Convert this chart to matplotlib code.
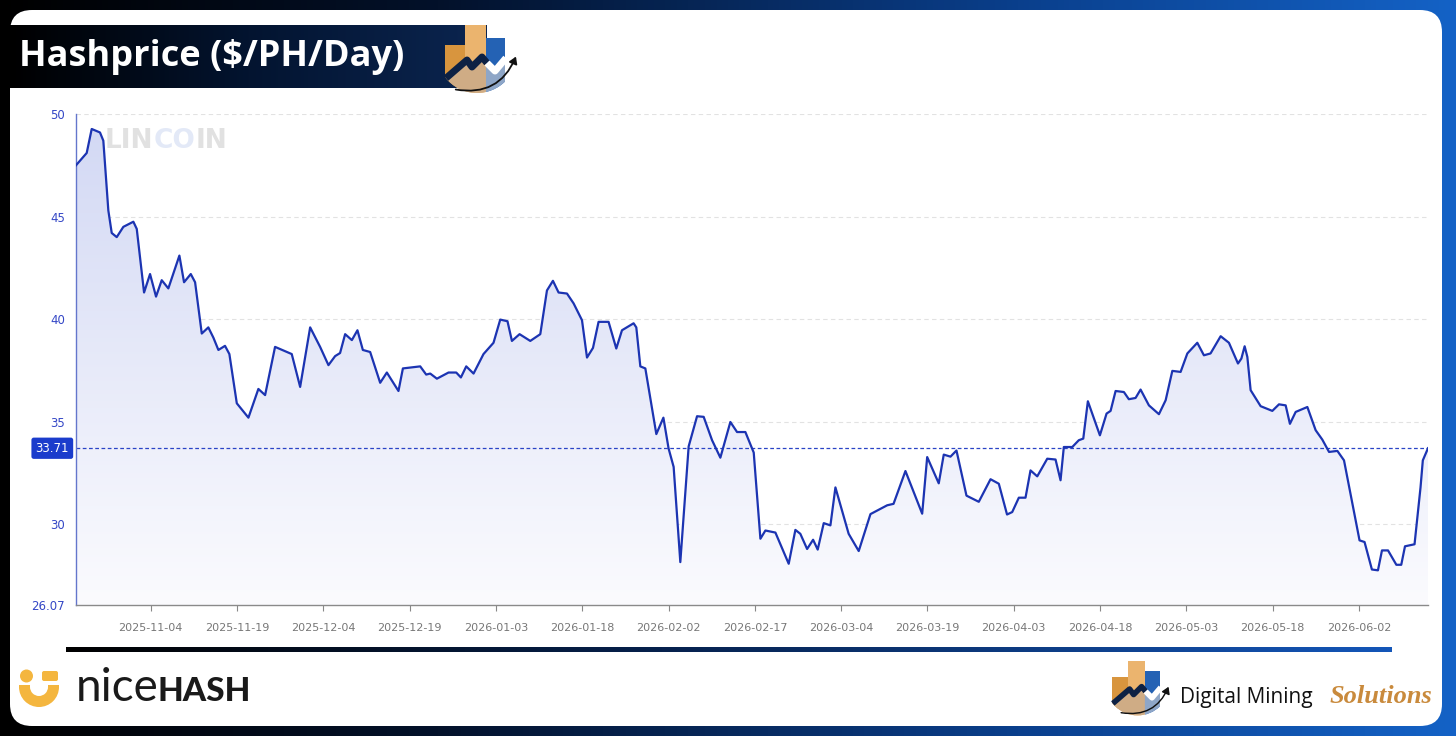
import numpy as np
import pandas as pd
import matplotlib
matplotlib.use("Agg")
import matplotlib.pyplot as plt
import matplotlib.dates as mdates
from matplotlib.patches import FancyBboxPatch, Rectangle, Circle, Wedge, Polygon, FancyArrowPatch
from matplotlib.colors import to_rgb
from matplotlib.transforms import offset_copy

# ---------------- data ----------------
START_DATE = "2025-10-22"
# days since START_DATE
DAYS = [0.0, 1.86, 2.73, 4.17, 4.75, 5.62, 6.21, 7.08, 8.23, 9.97, 10.56, 11.83, 12.87, 13.91,
        14.9, 16.05, 17.97, 18.78, 19.95, 20.7, 21.86, 23.0, 23.88, 24.75, 25.9, 26.66, 27.95,
        29.97, 31.7, 32.87, 34.6, 37.5, 38.96, 40.7, 42.43, 43.88, 45.04, 45.9, 46.78, 47.95,
        48.92, 49.86, 51.13, 52.87, 54.03, 56.05, 56.82, 59.83, 60.87, 61.57, 62.73, 64.75,
        66.09, 66.9, 67.83, 69.1, 70.83, 72.57, 73.74, 75.0, 75.77, 77.1, 78.96, 80.7, 81.86,
        82.9, 83.88, 85.34, 86.49, 87.95, 88.82, 89.86, 90.83, 92.57, 93.91, 94.9, 96.92,
        97.39, 98.09, 98.96, 100.87, 102.1, 103.0, 103.88, 105.04, 106.49, 107.95, 109.1,
        110.56, 112.0, 113.74, 114.9, 116.35, 117.8, 118.96, 119.83, 121.57, 123.88, 125.04,
        125.9, 127.08, 128.12, 128.92, 129.97, 131.13, 132.0, 134.3, 136.05, 138.09, 141.0,
        142.1, 144.17, 147.08, 147.95, 149.96, 150.83, 152.0, 153.04, 154.78, 156.92, 158.96,
        160.4, 161.83, 162.73, 163.88, 165.04, 165.91, 167.08, 168.82, 170.26, 171.13, 171.7,
        173.17, 174.3, 175.08, 175.88, 177.97, 179.13, 179.83, 180.7, 182.14, 183.0, 184.17,
        185.04, 186.49, 188.23, 189.4, 190.56, 192.0, 193.17, 194.9, 196.05, 197.2, 198.96,
        200.4, 201.97, 202.56, 203.13, 203.6, 204.17, 205.91, 207.94, 209.1, 210.26, 211.0,
        212.0, 214.03, 215.47, 216.63, 217.8, 219.25, 220.4, 223.1, 223.97, 225.25, 226.3,
        227.0, 228.05, 229.5, 230.35, 231.0, 232.66, 233.7, 234.1, 235.0]
HASHPRICE = [47.5, 48.1, 49.27, 49.1, 48.7, 45.3, 44.2, 44.0, 44.5, 44.75, 44.4, 41.3, 42.2, 41.1,
             41.9, 41.5, 43.1, 41.8, 42.2, 41.8, 39.3, 39.6, 39.1, 38.5, 38.7, 38.3, 35.9,
             35.2, 36.6, 36.3, 38.65, 38.3, 36.7, 39.6, 38.65, 37.76, 38.2, 38.35, 39.27, 38.98,
             39.46, 38.5, 38.4, 36.9, 37.4, 36.5, 37.6, 37.7, 37.3, 37.35, 37.1, 37.4,
             37.4, 37.16, 37.7, 37.35, 38.3, 38.85, 39.98, 39.9, 38.94, 39.27, 38.94, 39.27, 41.4,
             41.87, 41.3, 41.25, 40.77, 39.95, 38.13, 38.6, 39.87, 39.87, 38.57, 39.46, 39.8,
             39.6, 37.7, 37.6, 34.4, 35.2, 33.7, 32.8, 28.16, 33.8, 35.27, 35.24,
             34.1, 33.25, 34.99, 34.5, 34.5, 33.5, 29.3, 29.7, 29.6, 28.08, 29.73,
             29.54, 28.8, 29.25, 28.77, 30.06, 29.95, 31.8, 29.54, 28.7, 30.5, 30.93,
             31.0, 32.6, 30.52, 33.28, 32.0, 33.4, 33.3, 33.6, 31.4, 31.1, 32.2,
             31.98, 30.48, 30.6, 31.3, 31.3, 32.63, 32.34, 33.2, 33.16, 32.15, 33.77,
             33.77, 34.1, 34.18, 36.0, 34.34, 35.4, 35.53, 36.5, 36.45, 36.1, 36.16,
             36.57, 35.8, 35.37, 36.05, 37.48, 37.43, 38.33, 38.85, 38.24, 38.33, 39.17,
             38.85, 37.84, 38.08, 38.68, 38.16, 36.54, 35.76, 35.53, 35.85, 35.8, 34.9,
             35.48, 35.72, 34.59, 34.13, 33.53, 33.58, 33.12, 29.22, 29.14, 27.8, 27.76,
             28.73, 28.73, 28.03, 28.03, 28.93, 29.03, 31.8, 33.12, 33.71]
Y_MIN, Y_MAX = 26.07, 50
Y_TICKS = [26.07, 30, 35, 40, 45, 50]
Y_TICK_LABELS = ["26.07", "30", "35", "40", "45", "50"]
X_TICKS = ["2025-11-04", "2025-11-19", "2025-12-04", "2025-12-19", "2026-01-03", "2026-01-18",
           "2026-02-02", "2026-02-17", "2026-03-04", "2026-03-19", "2026-04-03", "2026-04-18",
           "2026-05-03", "2026-05-18", "2026-06-02"]
LAST_VALUE = 33.71
TITLE = "Hashprice ($/PH/Day)"

dates = pd.Timestamp(START_DATE) + pd.to_timedelta(DAYS, unit="D")
xnum = mdates.date2num(dates.to_pydatetime())

W, H = 1456, 736
fig = plt.figure(figsize=(W / 100, H / 100), dpi=100)

# ---------------- background / frame ----------------
bg = fig.add_axes([0, 0, 1, 1])
bg.set_axis_off()

def hgrad(c_stops, n=256):
    pos = [p for p, _ in c_stops]
    cols = np.array([to_rgb(c) for _, c in c_stops])
    t = np.linspace(0, 1, n)
    arr = np.stack([np.interp(t, pos, cols[:, k]) for k in range(3)], axis=-1)
    return arr[np.newaxis, :, :]

bg.imshow(hgrad([(0, "#000000"), (0.3, "#03112a"), (0.7, "#0a3f8c"), (1, "#1462c6")]),
          extent=(0, W, H, 0), aspect="auto", zorder=0)
panel = FancyBboxPatch((10, 10), 1432, 716, boxstyle="round,pad=0,rounding_size=22",
                       facecolor="white", edgecolor="none", zorder=1)
bg.add_patch(panel)
# title banner
bg.imshow(hgrad([(0, "#000000"), (0.5, "#031430"), (1, "#0b2550")]),
          extent=(10, 487, 88, 25), aspect="auto", zorder=2)
bg.text(19, 57, TITLE, color="white", fontsize=26, fontweight="bold",
        family=["Open Sans", "DejaVu Sans"], va="center", ha="left", zorder=3)

def draw_logo(ax, x0, y0, s, z=4):
    def P(x, y):
        return (x0 + x * s, y0 + y * s)
    clip = Circle(P(32, 28), 40 * s, transform=ax.transData)
    parts = [
        Rectangle(P(0, 20), 20 * s, 55 * s, facecolor="#d8953e", edgecolor="none"),
        Rectangle(P(20, 0), 21 * s, 75 * s, facecolor="#ebb46e", edgecolor="none"),
        Rectangle(P(41, 13), 19 * s, 62 * s, facecolor="#2462b4", edgecolor="none"),
        Polygon([P(0, 54), P(22, 35), P(27, 42), P(37, 34), P(41, 38), P(41, 75), P(0, 75)],
                facecolor="#cfac85", edgecolor="none"),
        Polygon([P(41, 38), P(50, 47), P(60, 35), P(60, 75), P(41, 75)],
                facecolor="#8ea6c7", edgecolor="none"),
    ]
    for p in parts:
        p.set_zorder(z)
        ax.add_patch(p)
        p.set_clip_path(clip)
    zz = np.array([P(0, 54), P(22, 35), P(27, 42), P(37, 32), P(42, 38)])
    l1, = ax.plot(zz[:, 0], zz[:, 1], color="#0d2144", lw=5 * s, solid_capstyle="butt", zorder=z + 1)
    l1.set_clip_path(clip)
    ww = np.array([P(42, 38), P(50, 46), P(61, 33)])
    l2, = ax.plot(ww[:, 0], ww[:, 1], color="white", lw=5 * s, solid_capstyle="butt", zorder=z + 1)
    l2.set_clip_path(clip)
    arr = FancyArrowPatch(P(8, 64), P(72, 29), connectionstyle="arc3,rad=0.42",
                          arrowstyle="-|>,head_length=4,head_width=2.5", color="#111111",
                          lw=1.3 * s, zorder=z + 2, mutation_scale=1)
    ax.add_patch(arr)

draw_logo(bg, 445, 25, 1.0)
draw_logo(bg, 1112, 661, 0.8)

# bottom separator line
bg.imshow(hgrad([(0, "#000000"), (0.45, "#06214d"), (1, "#1456b8")]),
          extent=(66, 1392, 652, 647), aspect="auto", zorder=2)

# nicehash logo
Y = "#f4b63f"
bg.add_patch(Circle((26.5, 676), 6.5, facecolor=Y, edgecolor="none", zorder=3))
bg.add_patch(FancyBboxPatch((42, 671), 16, 10, boxstyle="round,pad=0,rounding_size=2",
                            facecolor=Y, edgecolor="none", zorder=3))
bg.add_patch(Wedge((39, 687), 20, 0, 180, width=11, facecolor=Y, edgecolor="none", zorder=3))
bg.add_patch(Rectangle((19, 685), 11, 2.5, facecolor=Y, edgecolor="none", zorder=3))
bg.add_patch(Rectangle((48, 685), 11, 2.5, facecolor=Y, edgecolor="none", zorder=3))
bg.text(76, 701, "nice", color="#1a1a1a", fontsize=33, fontweight="normal",
        family=["Lato", "DejaVu Sans"], va="baseline", ha="left", zorder=3)
bg.text(157, 701, "HASH", color="#1a1a1a", fontsize=24, fontweight="black",
        family=["Lato", "DejaVu Sans"], va="baseline", ha="left", zorder=3)

# Digital Mining Solutions
bg.text(1180, 703, "Digital Mining", color="#111111", fontsize=15,
        family=["Open Sans", "DejaVu Sans"], va="baseline", ha="left", zorder=3)
bg.text(1330, 703, "Solutions", color="#c98a3c", fontsize=19, fontweight="bold", style="italic",
        family=["Liberation Serif", "DejaVu Serif"], va="baseline", ha="left", zorder=3)

bg.set_xlim(0, W)
bg.set_ylim(H, 0)

# ---------------- chart ----------------
L, R, T, B = 76, 1428, 114, 605
ax = fig.add_axes([L / W, 1 - B / H, (R - L) / W, (B - T) / H])
ax.set_facecolor("none")
ax.set_zorder(5)

x0n, x1n = xnum[0], xnum[-1]
ax.set_xlim(x0n, x1n)
ax.set_ylim(Y_MIN, Y_MAX)

# gradient fill under the curve
poly = ax.fill_between(xnum, HASHPRICE, Y_MIN, facecolor="none", edgecolor="none")
top_c = np.array(to_rgb("#d2d8f4"))
bot_c = np.array(to_rgb("#fbfbfe"))
t = np.linspace(0, 1, 256)[:, None]
grad = bot_c[None, :] * (1 - t) + top_c[None, :] * t
img = ax.imshow(grad[:, None, :], extent=(x0n, x1n, Y_MIN, Y_MAX), origin="lower",
                aspect="auto", zorder=1)
img.set_clip_path(poly.get_paths()[0], transform=ax.transData)

# grid
for yv in Y_TICKS[1:]:
    ax.axhline(yv, color="#e2e2e2", lw=0.8, dashes=(4, 3), zorder=0.5)

ax.plot(xnum, HASHPRICE, color="#1c34b2", lw=1.6, solid_joinstyle="round", zorder=3)
ax.axhline(LAST_VALUE, color="#2a44c6", lw=0.9, dashes=(3, 2), zorder=2.5)

ax.set_xlim(x0n, x1n)
ax.set_ylim(Y_MIN, Y_MAX)
ax.set_yticks(Y_TICKS)
ax.set_yticklabels(Y_TICK_LABELS)
ax.tick_params(axis="y", length=0, pad=8, labelsize=8.5, labelcolor="#3447c6")
xt = mdates.date2num(pd.to_datetime(X_TICKS).to_pydatetime())
ax.set_xticks(xt)
ax.set_xticklabels(X_TICKS)
ax.tick_params(axis="x", length=4, width=0.8, color="#888888", pad=9, labelsize=8,
               labelcolor="#777777")
for s in ["top", "right"]:
    ax.spines[s].set_visible(False)
ax.spines["left"].set_color("#6476cc")
ax.spines["left"].set_linewidth(1.0)
ax.spines["bottom"].set_color("#8a8a8a")
ax.spines["bottom"].set_linewidth(1.0)

# last value label box
ax.annotate(f"{LAST_VALUE:.2f}", xy=(0, LAST_VALUE), xycoords=("axes fraction", "data"),
            xytext=(-5, 0), textcoords="offset points", ha="right", va="center",
            fontsize=8.5, color="white",
            bbox=dict(boxstyle="round,pad=0.35,rounding_size=0.2", facecolor="#1b3ccc",
                      edgecolor="none"), zorder=10, annotation_clip=False)

# watermark "LINCOIN"
fig.canvas.draw()
renderer = fig.canvas.get_renderer()
trans = ax.transAxes
px = 0.0215
for part, col in [("LIN", "#e1e1e1"), ("CO", "#e3e9f7"), ("IN", "#e1e1e1")]:
    txt = ax.text(px, 0.972, part, transform=ax.transAxes, color=col, fontsize=19,
                  fontweight="bold", va="top", ha="left", zorder=0.6)
    bb = txt.get_window_extent(renderer=renderer)
    px += bb.width / ax.get_window_extent(renderer=renderer).width

fig.savefig("out.png", dpi=100)
